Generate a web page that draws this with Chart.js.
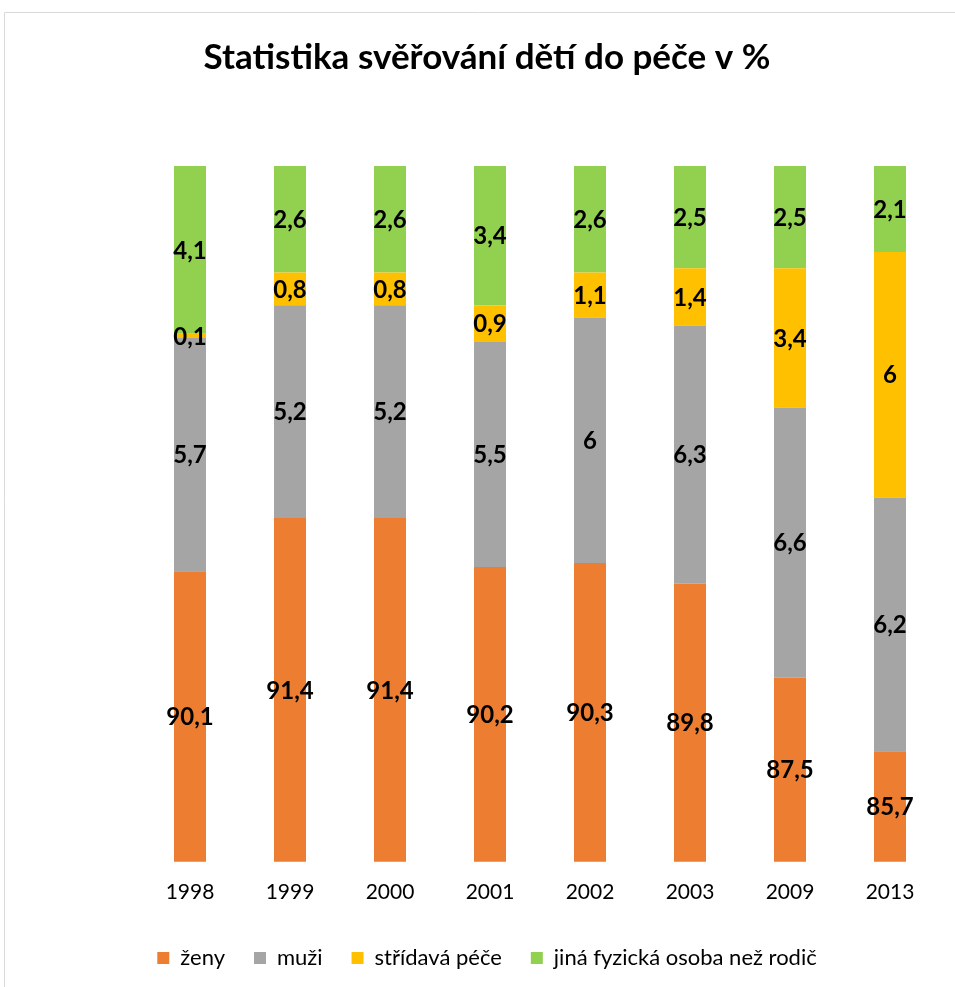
<!DOCTYPE html>
<html>
<head>
<meta charset="utf-8">
<script src="https://cdn.jsdelivr.net/npm/chart.js@4"></script>
<style>
  html, body { margin: 0; padding: 0; background: #fff; }
  #wrap { width: 955px; height: 987px; position: relative; }
</style>
</head>
<body>
<div id="wrap"><canvas id="chart"></canvas></div>
<script>
// roky
const years = ['1998', '1999', '2000', '2001', '2002', '2003', '2009', '2013'];

// hodnoty v %
const zeny     = [90.1, 91.4, 91.4, 90.2, 90.3, 89.8, 87.5, 85.7];
const muzi     = [5.7, 5.2, 5.2, 5.5, 6, 6.3, 6.6, 6.2];
const stridava = [0.1, 0.8, 0.8, 0.9, 1.1, 1.4, 3.4, 6];
const jina     = [4.1, 2.6, 2.6, 3.4, 2.6, 2.5, 2.5, 2.1];

const seriesNames = ['ženy', 'muži', 'střídavá péče', 'jiná fyzická osoba než rodič'];
const seriesColors = ['#ED7D31', '#A5A5A5', '#FFC000', '#92D050'];

const FONT = 'Lato, "Open Sans", sans-serif';

// popisky hodnot uprostred kazdeho dilu sloupce
const valueLabels = {
    id: 'valueLabels',
    afterDatasetsDraw(chart) {
        const ctx = chart.ctx;
        const area = chart.chartArea;
        ctx.save();
        ctx.font = 'bold 24px ' + FONT;
        ctx.fillStyle = '#000';
        ctx.textAlign = 'center';
        ctx.textBaseline = 'middle';
        chart.data.datasets.forEach((ds, i) => {
            const meta = chart.getDatasetMeta(i);
            meta.data.forEach((bar, j) => {
                const p = bar.getProps(['x', 'y', 'base'], true);
                let top = Math.max(Math.min(p.y, p.base), area.top);
                let bot = Math.min(Math.max(p.y, p.base), area.bottom);
                const txt = String(ds.data[j]).replace('.', ',');
                ctx.fillText(txt, p.x, (top + bot) / 2 + 1);
            });
        });
        ctx.restore();
    }
};

// tenky ramecek grafu (jen vlevo a nahore je videt)
const frame = {
    id: 'frame',
    beforeDraw(chart) {
        const ctx = chart.ctx;
        ctx.save();
        ctx.strokeStyle = '#d9d9d9';
        ctx.lineWidth = 1;
        ctx.beginPath();
        ctx.moveTo(4.5, chart.height);
        ctx.lineTo(4.5, 12.5);
        ctx.lineTo(chart.width, 12.5);
        ctx.stroke();
        ctx.restore();
    }
};

const datasets = [zeny, muzi, stridava, jina].map((vals, i) => ({
    label: seriesNames[i],
    data: vals,
    backgroundColor: seriesColors[i],
    borderWidth: 0,
    barPercentage: 0.32,
    categoryPercentage: 1
}));

new Chart(document.getElementById('chart').getContext('2d'), {
    type: 'bar',
    data: { labels: years, datasets: datasets },
    options: {
        responsive: true,
        maintainAspectRatio: false,
        animation: false,
        layout: { padding: { left: 34, right: 15, top: 0, bottom: 8 } },
        plugins: {
            title: {
                display: true,
                text: 'Statistika svěřování dětí do péče v %',
                color: '#000',
                font: { family: FONT, size: 35, weight: 'bold' },
                padding: { top: 37, bottom: 87 }
            },
            legend: {
                position: 'bottom',
                labels: {
                    color: '#000',
                    font: { family: FONT, size: 22 },
                    boxWidth: 12,
                    boxHeight: 12,
                    padding: 29
                }
            },
            tooltip: { enabled: false }
        },
        scales: {
            x: {
                stacked: true,
                grid: { display: false },
                border: { display: false },
                ticks: { color: '#000', font: { family: FONT, size: 21 }, padding: 10 },
                afterFit(scale) { scale.height += 3; }
            },
            y: {
                stacked: true,
                min: 83,
                max: 100,
                grid: { display: false },
                border: { display: false },
                ticks: { display: false },
                afterFit(scale) { scale.width = 106; }
            }
        }
    },
    plugins: [valueLabels, frame]
});
</script>
</body>
</html>
